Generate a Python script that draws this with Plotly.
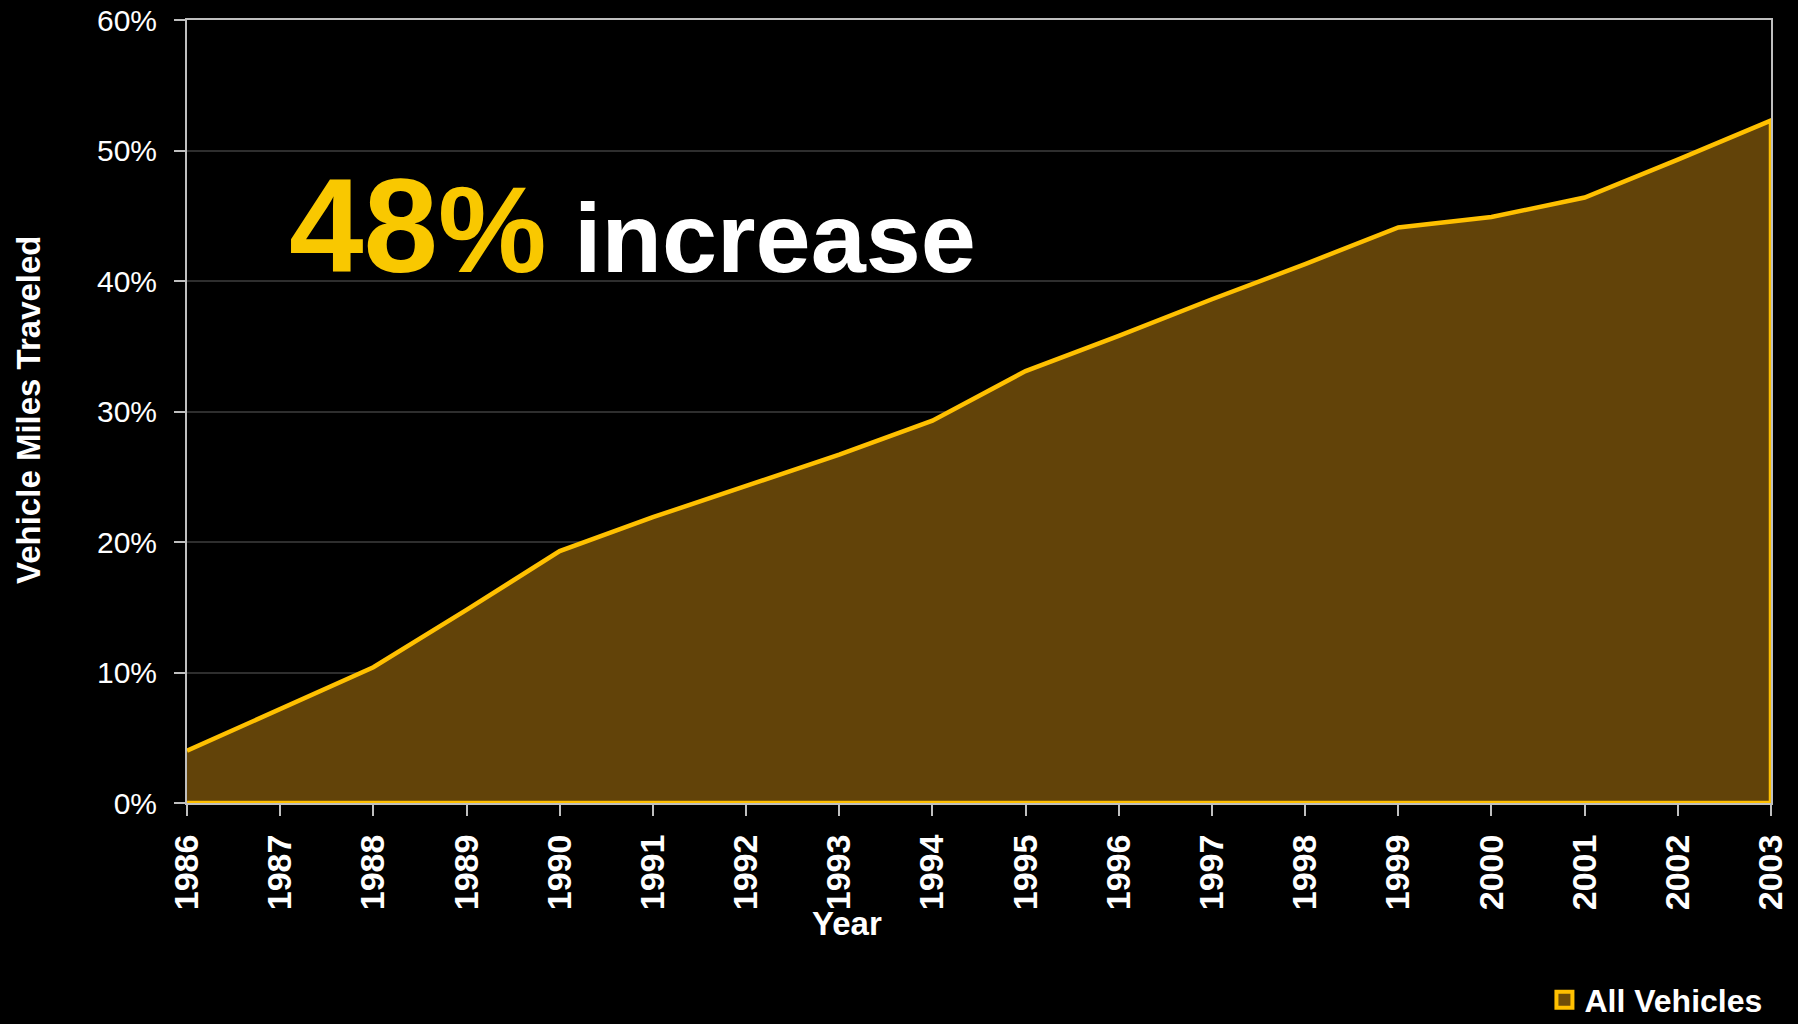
import plotly.graph_objects as go

years = [1986, 1987, 1988, 1989, 1990, 1991, 1992, 1993, 1994, 1995,
         1996, 1997, 1998, 1999, 2000, 2001, 2002, 2003]
vmt_growth = [4.0, 7.2, 10.4, 14.8, 19.3, 21.9, 24.3, 26.7, 29.3, 33.1,
              35.8, 38.6, 41.3, 44.1, 44.9, 46.4, 49.3, 52.3]
y_ticks = [0, 10, 20, 30, 40, 50, 60]
series_name = "All Vehicles"

LINE = "#FFC000"
FILL = "#624309"
FONT = "Liberation Sans"

# closed polygon so the outline runs around the whole area (as in the original)
poly_x = years + [years[-1], years[0]]
poly_y = vmt_growth + [0, 0]

fig = go.Figure()
fig.add_trace(go.Scatter(
    x=poly_x, y=poly_y, mode="lines", fill="toself",
    fillcolor=FILL, line=dict(color=LINE, width=4.5),
    showlegend=False, hoverinfo="skip"))
# legend entry
fig.add_trace(go.Scatter(
    x=[None], y=[None], mode="markers", name=series_name,
    marker=dict(symbol="square", size=22, color="#6E4C08",
                line=dict(color=LINE, width=4))))

fig.update_layout(
    width=1798, height=1024,
    margin=dict(l=187, r=27, t=20, b=221, autoexpand=False),
    paper_bgcolor="black", plot_bgcolor="black",
    font=dict(family=FONT, color="white"),
    showlegend=True,
    legend=dict(xref="container", yref="container",
                x=0.983, y=0.0235, xanchor="right", yanchor="middle",
                font=dict(family=FONT, size=32, color="white", weight="bold"),
                bgcolor="rgba(0,0,0,0)", itemsizing="trace"),
    xaxis=dict(range=[1986, 2003], tickmode="array", tickvals=years,
               ticktext=[str(y) for y in years], tickangle=-90,
               tickfont=dict(family=FONT, size=34, color="white", weight="bold"),
               ticks="outside", ticklen=11, tickcolor="#BFBFBF", tickwidth=2,
               ticklabelstandoff=5, automargin=False,
               showgrid=False, zeroline=False,
               showline=True, linecolor="#BFBFBF", linewidth=2, mirror=True),
    yaxis=dict(range=[0, 60], tickmode="array", tickvals=y_ticks,
               ticktext=[f"{v}%" for v in y_ticks],
               tickfont=dict(family=FONT, size=30, color="white"),
               ticks="outside", ticklen=11, tickcolor="#BFBFBF", tickwidth=2,
               ticklabelstandoff=11, automargin=False,
               showgrid=True, gridcolor="#2E2E2E", gridwidth=1.5,
               zeroline=False,
               showline=True, linecolor="#BFBFBF", linewidth=2, mirror=True),
)

fig.add_annotation(
    xref="paper", yref="paper", x=-0.0997, y=0.502,
    text="<b>Vehicle Miles Traveled</b>", textangle=-90, showarrow=False,
    font=dict(family=FONT, size=33, color="white"),
    xanchor="center", yanchor="middle")

fig.add_annotation(
    xref="paper", yref="paper", x=0.4167, y=-0.1545,
    text="<b>Year</b>", showarrow=False,
    font=dict(family=FONT, size=33, color="white"),
    xanchor="center", yanchor="middle")

fig.add_annotation(
    xref="paper", yref="paper", x=0.0631, y=0.738,
    text=("<b><span style='color:#F9C800;font-size:134px'>48</span>"
          "<span style='color:#F9C800;font-size:122px'>%</span>"
          "<span style='font-size:99px'> increase</span></b>"),
    showarrow=False, font=dict(family=FONT, size=99, color="white"),
    xanchor="left", yanchor="middle")

fig.write_html(
    "out.html",
    config={"displayModeBar": False},
    post_script="document.body.style.margin='0';"
                "document.body.style.background='black';"
                "document.body.style.overflow='hidden';")
